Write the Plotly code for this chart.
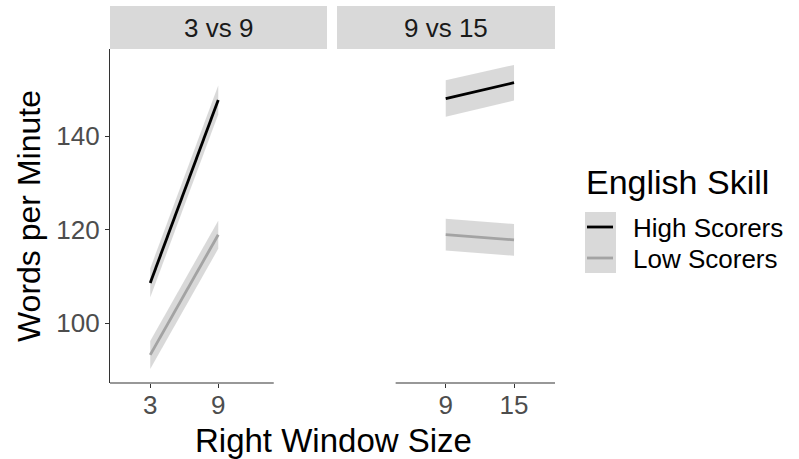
import plotly.graph_objects as go
import numpy as np

# ---- data ----
panels = ["3 vs 9", "9 vs 15"]
groups = ["High Scorers", "Low Scorers"]
x_left = [3, 9]
x_right = [9, 15]
high_left = [108.6, 147.7]
low_left = [93.2, 118.9]
high_right = [148.0, 151.4]
low_right = [118.9, 117.8]
ci_high_left = [3.1, 3.1]
ci_low_left = [3.0, 3.0]
ci_high_right = [3.9, 3.8]
ci_low_right = [3.4, 3.4]
y_ticks = [100, 120, 140]

line_colors = {"High Scorers": "#000000", "Low Scorers": "#a3a3a3"}
ribbon_fill = "rgba(185,185,185,0.55)"
FONT = "Liberation Sans, Arial, sans-serif"

W, H = 799, 459
def px(x): return x / W
def py(y): return 1 - y / H

fig = go.Figure()

series = [
    ("x", "y", x_left, high_left, ci_high_left, "High Scorers"),
    ("x", "y", x_left, low_left, ci_low_left, "Low Scorers"),
    ("x2", "y2", x_right, high_right, ci_high_right, "High Scorers"),
    ("x2", "y2", x_right, low_right, ci_low_right, "Low Scorers"),
]
for xa, ya, xs, ys, ci, g in series:
    ys = np.array(ys); ci = np.array(ci)
    up = ys + ci; lo = ys - ci
    fig.add_trace(go.Scatter(x=list(xs) + list(xs)[::-1], y=list(up) + list(lo[::-1]),
                             fill="toself", fillcolor=ribbon_fill, line=dict(width=0),
                             mode="lines", xaxis=xa, yaxis=ya, showlegend=False, hoverinfo="skip"))
for xa, ya, xs, ys, ci, g in series:
    fig.add_trace(go.Scatter(x=xs, y=ys, mode="lines", line=dict(color=line_colors[g], width=2.8),
                             xaxis=xa, yaxis=ya, showlegend=False, name=g))

xr = [-0.55, 18.6]
yr = [87.2, 158.6]
ydom = [py(383), py(49)]
TICKFONT = dict(family=FONT, size=26, color="#4d4d4d")
axis_common = dict(range=xr, showgrid=False, zeroline=False, showline=False,
                   ticks="outside", ticklen=4, tickcolor="#333333", tickwidth=1.1,
                   tickfont=TICKFONT, ticklabelstandoff=-5)
fig.update_layout(
    width=W, height=H, margin=dict(l=0, r=0, t=0, b=0, autoexpand=False),
    paper_bgcolor="white", plot_bgcolor="white", showlegend=False,
    font=dict(family=FONT),
    xaxis=dict(domain=[px(110), px(327)], anchor="y", tickvals=x_left,
               ticktext=[str(v) for v in x_left], **axis_common),
    xaxis2=dict(domain=[px(337), px(555)], anchor="y2", tickvals=x_right,
                ticktext=[str(v) for v in x_right], **axis_common),
    yaxis=dict(domain=ydom, range=yr, anchor="x", showgrid=False, zeroline=False,
               showline=True, linecolor="#333333", linewidth=1.1, ticks="outside", ticklen=4,
               tickcolor="#333333", tickwidth=1.1, tickvals=y_ticks, tickfont=TICKFONT),
    yaxis2=dict(domain=ydom, range=yr, anchor="x2", showgrid=False, zeroline=False,
                showline=False, showticklabels=False, ticks=""),
)

shapes = []
shapes.append(dict(type="line", xref="x", yref="paper", x0=xr[0], x1=13.9, y0=py(383), y1=py(383),
                   line=dict(color="#333333", width=1.1)))
shapes.append(dict(type="line", xref="x2", yref="paper", x0=4.6, x1=xr[1], y0=py(383), y1=py(383),
                   line=dict(color="#333333", width=1.1)))
for x0, x1 in [(110, 327), (337, 555)]:
    shapes.append(dict(type="rect", xref="paper", yref="paper", x0=px(x0), x1=px(x1),
                       y0=py(49), y1=py(6), fillcolor="#d9d9d9", line=dict(width=0), layer="below"))
shapes.append(dict(type="rect", xref="paper", yref="paper", x0=px(585), x1=px(616),
                   y0=py(273), y1=py(212), fillcolor="#d9d9d9", line=dict(width=0)))
shapes.append(dict(type="line", xref="paper", yref="paper", x0=px(587), x1=px(613),
                   y0=py(227), y1=py(227), line=dict(color=line_colors["High Scorers"], width=2.8)))
shapes.append(dict(type="line", xref="paper", yref="paper", x0=px(587), x1=px(613),
                   y0=py(258), y1=py(258), line=dict(color=line_colors["Low Scorers"], width=2.8)))
fig.update_layout(shapes=shapes)

def ann(text, x, y, size, color="black", xanchor="center", angle=0):
    return dict(text=text, x=px(x), y=py(y), xref="paper", yref="paper", showarrow=False,
                xanchor=xanchor, yanchor="middle", textangle=angle,
                font=dict(family=FONT, size=size, color=color))

anns = [
    ann(panels[0], 218.5, 28, 26, "#1a1a1a"),
    ann(panels[1], 446, 28, 26, "#1a1a1a"),
    ann("Right Window Size", 333, 440, 33),
    ann("Words per Minute", 29, 216, 32, angle=-90),
    ann("English Skill", 584, 182, 34, xanchor="left"),
    ann(groups[0], 631, 228, 26, xanchor="left"),
    ann(groups[1], 631, 259, 26, xanchor="left"),
]
fig.update_layout(annotations=anns)

fig.write_html("out.html", config={"displayModeBar": False},
               post_script="document.body.style.margin='0';document.body.style.overflow='hidden';")
